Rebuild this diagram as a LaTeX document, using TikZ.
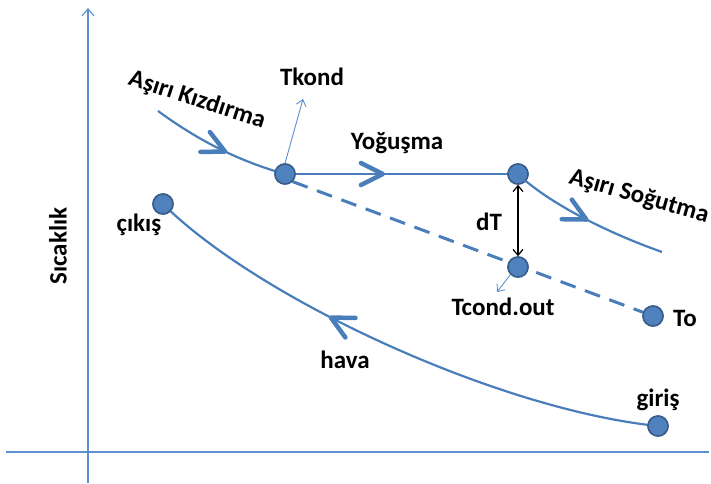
\documentclass[tikz,border=0pt]{standalone}
\usepackage{fontspec}
\setmainfont{Carlito}
\usetikzlibrary{arrows.meta,decorations.markings}
\definecolor{lineblue}{HTML}{4A7EBB}
\definecolor{axisblue}{HTML}{5B8FD0}
\definecolor{dotfill}{HTML}{4F81BD}
\definecolor{dotdraw}{HTML}{385D8A}
\tikzset{
  dot/.style={circle,fill=dotfill,draw=dotdraw,line width=1.5pt,minimum size=20pt,inner sep=0pt},
  lbl/.style={font=\fontsize{25}{29}\selectfont\bfseries,text=black,inner sep=0pt},
  curve/.style={draw=lineblue,line width=2.2pt},
  chev/.style={decoration={markings,mark=at position #1 with {\draw[lineblue,line width=4.5pt,line cap=round,line join=round] (-22pt,-11pt) -- (0,0) -- (-22pt,11pt);}},postaction={decorate}},
  thinarrow/.style={draw=axisblue,line width=0.9pt,-{Straight Barb[length=6pt,width=10pt,line width=0.9pt]}},
  axis/.style={draw=axisblue,line width=1.1pt}
}
\begin{document}
\begin{tikzpicture}[x=1pt,y=-1pt]
\useasboundingbox (0,0) rectangle (711,483);
% axes
\coordinate (ybot) at (88,483);
\coordinate (ytop) at (88,8);
\coordinate (xl) at (6,452);
\coordinate (xr) at (709,452);
\draw[axis,-{Straight Barb[length=7pt,width=12pt,line width=1.1pt]}] (ybot) -- (ytop);
\draw[axis] (xl) -- (xr);
\node[lbl,rotate=90] (ylab) at (58,246) {Sıcaklık};
% nodes
\node[dot] (tk) at (285,174) {};
\node[dot] (cond) at (518,174) {};
\node[dot] (tco) at (518,267) {};
\node[dot] (to) at (653,316) {};
\node[dot] (cik) at (163,204) {};
\node[dot] (gir) at (658,426) {};
\coordinate (kstart) at (158,111);
\coordinate (send) at (662,252);
\coordinate (tktip) at (303,99);
\coordinate (tcotip) at (497,292);
% dashed line
\draw[curve,line width=3pt,dash pattern=on 16pt off 10pt] (tk.south east) -- (to);
% superheat
\draw[curve,chev=0.55] (kstart) .. controls (195,138) and (235,160) .. (tk.center);
% condensation
\draw[curve,chev=0.42] (tk.center) -- (cond.center);
% subcooling
\draw[curve,chev=0.5] (cond.center) .. controls (545,200) and (600,230) .. (send);
% air
\draw[curve,chev=0.63] (gir.center) .. controls (500,410) and (260,300) .. (cik.center);
% redraw dots on top
\node[dot] at (tk) {};
\node[dot] at (tco) {};
\node[dot] at (to) {};
\node[dot] at (cik) {};
\node[dot] at (gir) {};
\node[dot] at (cond) {};
\draw[curve,line width=1.6pt] (cond.center) -- ++(8,8);
% thin arrows
\draw[thinarrow] (tk.north) -- (tktip);
\draw[thinarrow] (tco.south west) -- (tcotip);
\draw[black,line width=1.2pt,{Straight Barb[length=6pt,width=10pt,line width=1.2pt]}-{Straight Barb[length=6pt,width=10pt,line width=1.2pt]}] (cond.south) -- (tco.north);
% labels
\node[lbl,rotate=-18] (lk) at (197,100) {Aşırı Kızdırma};
\node[lbl] (ltk) at (312,77) {Tkond};
\node[lbl] (ly) at (397,143) {Yoğuşma};
\node[lbl,rotate=-16] (ls) at (639,197) {Aşırı Soğutma};
\node[lbl] (ldt) at (489,222) {dT};
\node[lbl] (ltco) at (503,307) {Tcond.out};
\node[lbl] (lto) at (685,318) {To};
\node[lbl] (lcik) at (139,225) {çıkış};
\node[lbl] (lgir) at (658,400) {giriş};
\node[lbl] (lhava) at (345,360) {hava};
\end{tikzpicture}
\end{document}
